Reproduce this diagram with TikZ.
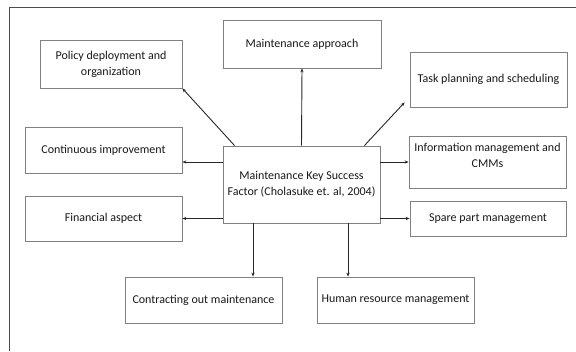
\documentclass[tikz,border=0pt]{standalone}
\usepackage{fontspec}
\setmainfont{Carlito}
\usetikzlibrary{arrows.meta}
\tikzset{
  box/.style={draw=black!50, line width=0.8pt, fill=white, text=black!90, align=center,
    inner sep=0pt, font=\fontsize{12}{16}\selectfont},
  arr/.style={draw=black!85, line width=0.9pt, -{Stealth[length=4pt,width=3.2pt]}},
  frame/.style={draw=black!70, line width=0.9pt}
}
\begin{document}
\begin{tikzpicture}[x=1pt,y=-1pt]
\useasboundingbox (0,0) rectangle (576,351);
\coordinate (fa) at (9,351);
\coordinate (fb) at (9,7);
\coordinate (fc) at (576,7);
\draw[frame] (fa) -- (fb) -- (fc);
\node[box, minimum width=142pt, minimum height=48pt] (pol) at (111,64) {Policy deployment and\\organization};
\node[box, minimum width=158pt, minimum height=48pt] (app) at (302,44) {Maintenance approach};
\node[box, minimum width=157pt, minimum height=55pt] (task) at (488.5,79.5) {Task planning and scheduling};
\node[box, minimum width=157pt, minimum height=46pt] (cont) at (103.5,150) {Continuous improvement};
\node[box, minimum width=157pt, minimum height=45pt] (fin) at (103.5,218.5) {Financial aspect};
\node[box, minimum width=157pt, minimum height=77pt] (ctr) at (301.5,184.5) {Maintenance Key Success\\Factor (Cholasuke et. al, 2004)};
\node[box, minimum width=157pt, minimum height=52pt] (info) at (487.5,162) {Information management and\\CMMs\\[-2pt]\mbox{}};
\node[box, minimum width=156pt, minimum height=35pt] (spare) at (488,218.5) {Spare part management};
\node[box, minimum width=157pt, minimum height=46pt] (contr) at (203.5,300) {Contracting out maintenance};
\node[box, minimum width=157pt, minimum height=46pt] (hum) at (395.5,300) {Human resource management};
% connectors
\draw[arr] (ctr.north) -- (app.south);
\draw[arr] ([xshift=12pt]ctr.north west) -- (pol.south east);
\draw[arr] ([xshift=-16pt]ctr.north east) -- ([xshift=-5pt,yshift=5pt]task.south west);
\draw[arr] ([yshift=22.5pt]ctr.west) -- ([yshift=22.5pt]ctr.west -| cont.east);
\draw[arr] (ctr.west |- fin.east) -- (fin.east);
\draw[arr] (ctr.east |- info.west) -- (info.west);
\draw[arr] (ctr.east |- spare.west) -- (spare.west);
\draw[arr] ([xshift=-48.5pt]ctr.south) -- ([xshift=-48.5pt]ctr.south |- contr.north);
\draw[arr] ([xshift=46.5pt]ctr.south) -- ([xshift=46.5pt]ctr.south |- hum.north);
\end{tikzpicture}
\end{document}
